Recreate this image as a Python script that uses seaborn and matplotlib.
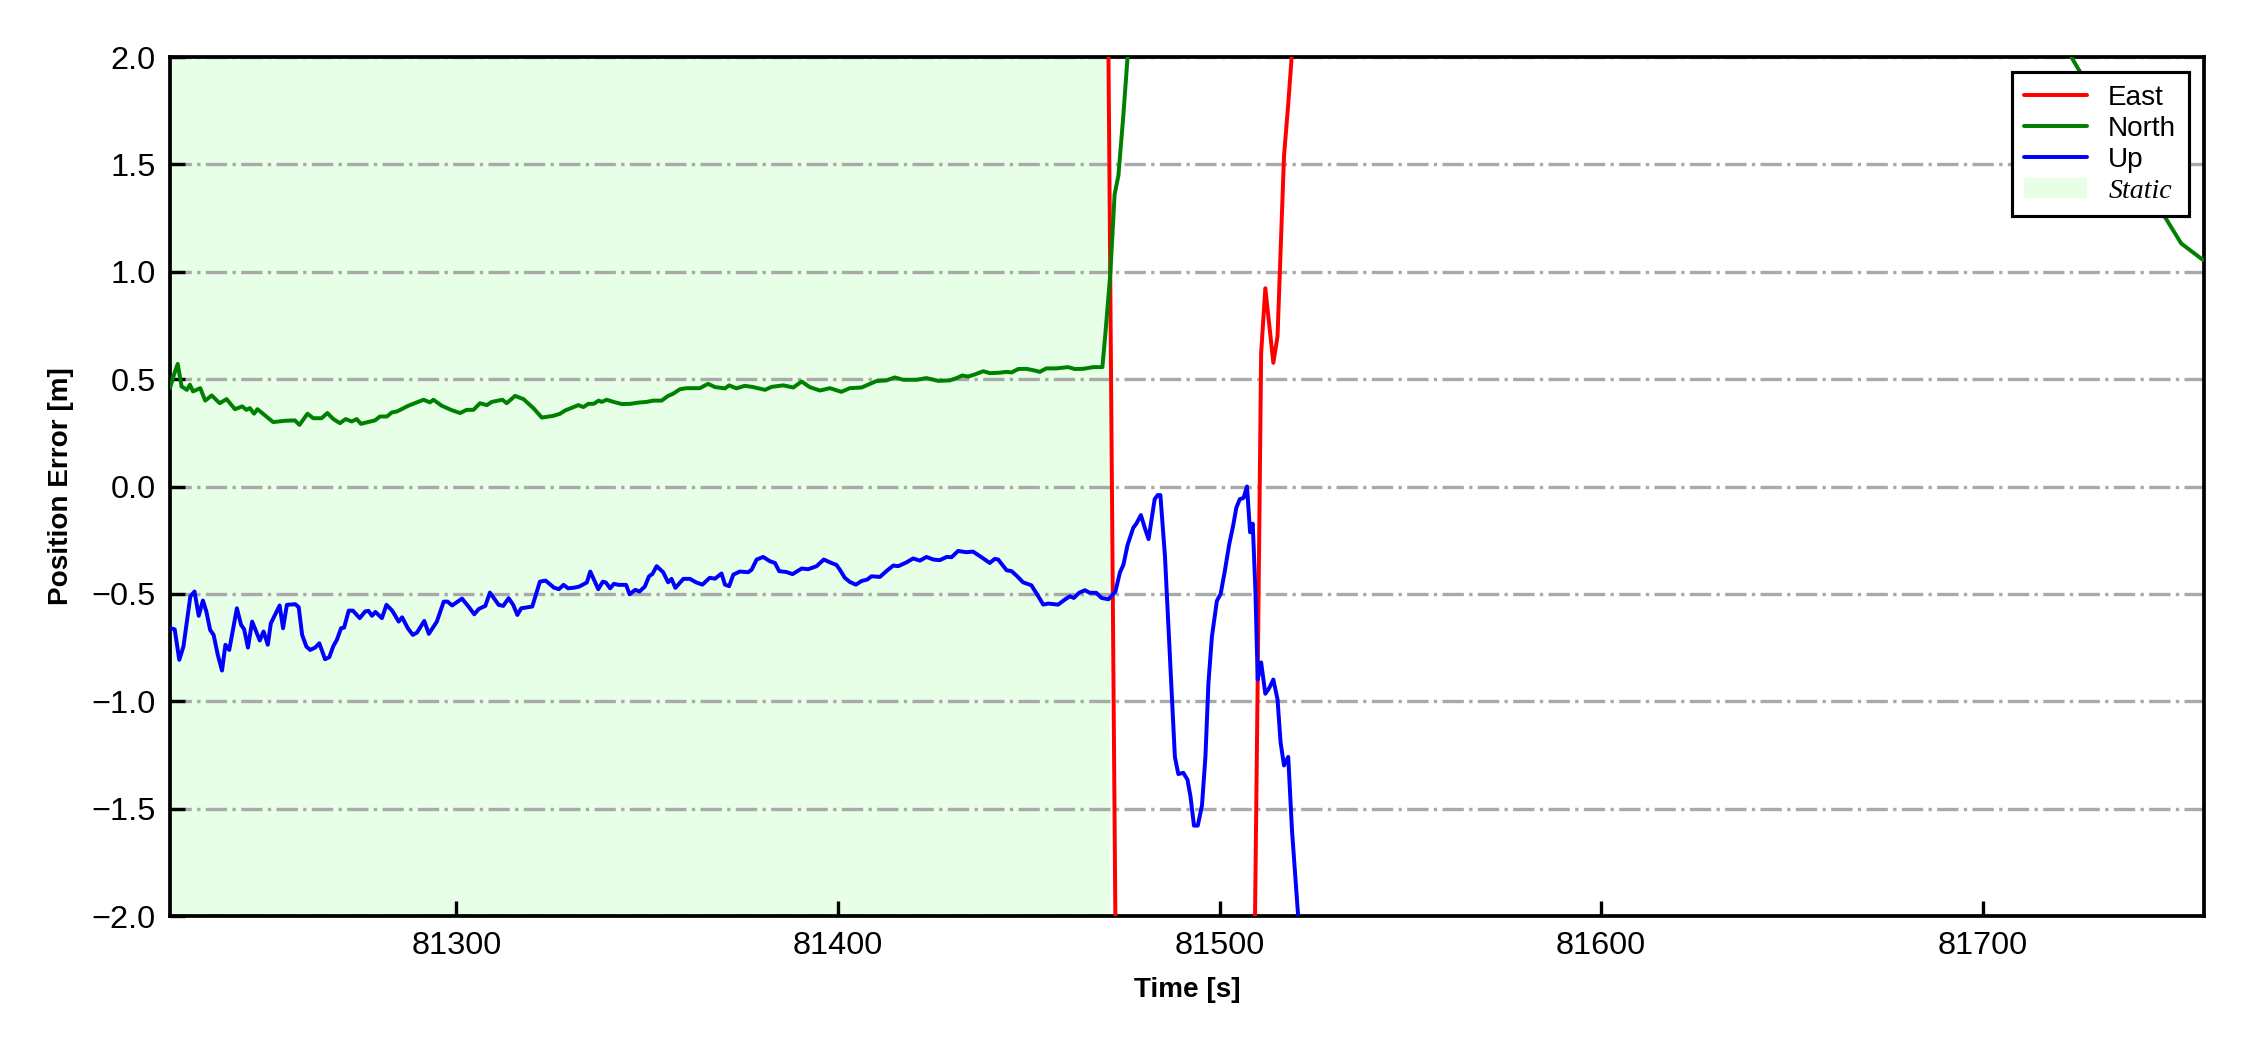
import numpy as np
import pandas as pd
import matplotlib
matplotlib.use("Agg")
import matplotlib.pyplot as plt
import seaborn as sns
from matplotlib.patches import Patch
from matplotlib.lines import Line2D

# ---------------- data ----------------
t_east = [81225.0, 81300.0, 81400.0, 81470.45, 81470.9, 81472.7, 81473.15, 81490.0,
          81508.7, 81509.3, 81510.0, 81510.9, 81512.0, 81514.1, 81515.2, 81516.9,
          81518.0, 81518.9, 81520.0, 81600.0, 81758.0]
v_east = [5.0, 5.4, 5.1, 3.0, 2.0, -2.0, -3.0, -5.5,
          -2.94, -2.0, -0.899, 0.621, 0.923, 0.576, 0.70, 1.541,
          1.78, 2.0, 2.3, 6.0, 7.0]

t_north = [81225.0, 81226.0, 81227.0, 81228.0, 81229.4, 81230.2, 81231.0, 81232.9, 81234.2, 81235.9,
           81238.0, 81239.8, 81242.0, 81243.9, 81245.0, 81245.9, 81247.0, 81247.9, 81252.0, 81255.0,
           81257.7, 81258.9, 81261.0, 81262.5, 81264.7, 81266.2, 81267.8, 81269.5, 81271.0, 81272.6,
           81273.9, 81275.0, 81278.7, 81280.0, 81281.8, 81283.1, 81284.4, 81287.4, 81291.4, 81293.1,
           81294.0, 81296.2, 81298.6, 81301.0, 81302.7, 81304.5, 81306.2, 81308.0, 81309.3, 81312.1,
           81313.2, 81315.4, 81317.6, 81320.2, 81322.4, 81325.4, 81327.2, 81328.5, 81330.7, 81332.0,
           81333.3, 81334.6, 81336.0, 81337.3, 81338.1, 81339.4, 81341.2, 81343.4, 81345.6, 81347.8,
           81349.9, 81351.6, 81353.8, 81355.5, 81356.8, 81358.6, 81360.3, 81363.8, 81366.0, 81367.8,
           81370.4, 81371.5, 81373.4, 81375.6, 81377.8, 81380.9, 81382.6, 81385.7, 81388.3, 81390.5,
           81392.6, 81395.3, 81397.9, 81400.9, 81403.1, 81406.2, 81410.1, 81412.7, 81414.9, 81417.1,
           81420.6, 81423.2, 81426.3, 81429.3, 81431.1, 81432.6, 81434.1, 81435.9, 81438.1, 81439.8,
           81442.4, 81444.2, 81445.5, 81447.2, 81449.4, 81451.6, 81452.9, 81454.6, 81457.3, 81460.3,
           81462.1, 81464.3, 81466.9, 81469.3, 81470.1, 81471.4, 81472.5, 81473.5, 81474.8, 81475.9,
           81477.2, 81500.0, 81600.0, 81690.0, 81715.0, 81723.2, 81747.7, 81752.0, 81757.7]
v_north = [0.46, 0.52, 0.571, 0.466, 0.45, 0.474, 0.443, 0.458, 0.40, 0.424,
           0.388, 0.407, 0.36, 0.373, 0.357, 0.365, 0.339, 0.36, 0.30, 0.306,
           0.308, 0.287, 0.339, 0.318, 0.318, 0.342, 0.314, 0.295, 0.314, 0.303,
           0.314, 0.292, 0.308, 0.326, 0.326, 0.345, 0.349, 0.376, 0.404, 0.392,
           0.404, 0.376, 0.357, 0.342, 0.357, 0.357, 0.388, 0.379, 0.394, 0.404,
           0.388, 0.422, 0.407, 0.365, 0.321, 0.329, 0.339, 0.354, 0.37, 0.379,
           0.37, 0.385, 0.385, 0.40, 0.394, 0.404, 0.394, 0.384, 0.385, 0.391,
           0.394, 0.40, 0.40, 0.422, 0.432, 0.453, 0.458, 0.458, 0.478, 0.463,
           0.457, 0.471, 0.457, 0.469, 0.463, 0.45, 0.464, 0.471, 0.461, 0.489,
           0.463, 0.447, 0.458, 0.441, 0.458, 0.461, 0.491, 0.494, 0.508, 0.497,
           0.497, 0.505, 0.492, 0.494, 0.505, 0.517, 0.512, 0.522, 0.537, 0.528,
           0.530, 0.534, 0.531, 0.547, 0.548, 0.540, 0.534, 0.550, 0.550, 0.556,
           0.547, 0.548, 0.556, 0.556, 0.715, 0.995, 1.36, 1.448, 1.73, 2.0,
           2.27, 4.1, 5.0, 3.4, 2.25, 2.0, 1.256, 1.132, 1.055]

t_up = [81225.0, 81226.2, 81227.4, 81228.5, 81230.3, 81231.4, 81232.5, 81233.6, 81234.5, 81235.5,
        81236.4, 81237.5, 81238.6, 81239.5, 81240.5, 81242.5, 81243.6, 81244.4, 81245.4, 81246.5,
        81248.5, 81249.5, 81250.6, 81251.4, 81253.7, 81254.6, 81255.6, 81257.8, 81258.7, 81259.6,
        81260.7, 81261.7, 81263.0, 81264.1, 81265.6, 81266.7, 81267.8, 81268.7, 81269.8, 81270.6,
        81271.8, 81272.9, 81274.7, 81276.1, 81277.0, 81277.9, 81278.8, 81280.5, 81281.7, 81283.2,
        81284.9, 81285.8, 81287.3, 81288.6, 81289.7, 81291.6, 81292.8, 81294.9, 81296.7, 81297.7,
        81298.9, 81301.5, 81303.2, 81304.7, 81305.9, 81307.6, 81308.8, 81311.1, 81312.3, 81313.7,
        81314.9, 81316.0, 81317.0, 81319.9, 81321.9, 81323.4, 81325.6, 81326.9, 81328.1, 81329.3,
        81330.9, 81332.2, 81334.2, 81335.1, 81336.1, 81337.2, 81338.4, 81339.2, 81340.3, 81341.3,
        81342.5, 81344.5, 81345.4, 81346.9, 81348.0, 81349.4, 81350.5, 81351.4, 81352.5, 81354.2,
        81355.5, 81356.4, 81357.4, 81359.5, 81361.2, 81362.8, 81364.5, 81366.4, 81367.8, 81369.5,
        81370.4, 81371.5, 81372.6, 81374.3, 81376.5, 81377.4, 81378.7, 81380.4, 81382.2, 81383.5,
        81384.6, 81386.5, 81388.1, 81390.5, 81392.2, 81394.4, 81396.3, 81397.9, 81399.6, 81400.5,
        81401.8, 81403.1, 81404.7, 81406.2, 81407.7, 81408.8, 81411.0, 81412.7, 81414.5, 81415.8,
        81418.0, 81419.7, 81421.5, 81423.2, 81425.0, 81426.7, 81428.5, 81429.8, 81431.5, 81433.7,
        81435.4, 81437.6, 81439.8, 81441.1, 81442.0, 81444.2, 81445.5, 81446.8, 81448.5, 81450.7,
        81452.5, 81453.8, 81455.1, 81457.7, 81459.5, 81460.8, 81461.8, 81463.2, 81464.7, 81466.0,
        81467.7, 81469.1, 81470.9, 81472.7, 81473.9, 81474.8, 81475.9, 81477.4, 81478.2, 81479.4,
        81480.4, 81481.4, 81483.0, 81483.8, 81484.5, 81485.7, 81486.8, 81487.7, 81488.3, 81489.2,
        81490.5, 81491.6, 81492.4, 81493.3, 81494.3, 81495.4, 81496.3, 81497.1, 81498.0, 81499.3,
        81500.3, 81501.4, 81502.5, 81503.6, 81504.4, 81505.3, 81506.3, 81507.2, 81508.0, 81508.7,
        81509.4, 81510.0, 81510.9, 81512.0, 81513.0, 81514.1, 81515.2, 81516.0, 81516.9, 81518.0,
        81519.0, 81520.6, 81521.5, 81560.0, 81650.0, 81758.0]
v_up = [-0.66, -0.665, -0.807, -0.745, -0.512, -0.489, -0.602, -0.531, -0.582, -0.668,
        -0.691, -0.784, -0.857, -0.737, -0.761, -0.567, -0.644, -0.665, -0.75, -0.629,
        -0.717, -0.675, -0.737, -0.637, -0.554, -0.66, -0.551, -0.548, -0.562, -0.691,
        -0.745, -0.761, -0.75, -0.73, -0.804, -0.795, -0.742, -0.714, -0.66, -0.657,
        -0.578, -0.578, -0.613, -0.582, -0.579, -0.602, -0.584, -0.613, -0.551, -0.578,
        -0.629, -0.609, -0.66, -0.691, -0.68, -0.626, -0.686, -0.629, -0.536, -0.536,
        -0.554, -0.522, -0.559, -0.595, -0.57, -0.556, -0.494, -0.551, -0.556, -0.52,
        -0.551, -0.598, -0.567, -0.559, -0.443, -0.438, -0.471, -0.478, -0.458, -0.474,
        -0.471, -0.466, -0.447, -0.396, -0.435, -0.478, -0.443, -0.447, -0.474, -0.453,
        -0.458, -0.458, -0.502, -0.481, -0.489, -0.466, -0.418, -0.407, -0.371, -0.399,
        -0.446, -0.43, -0.472, -0.43, -0.43, -0.446, -0.457, -0.425, -0.429, -0.405,
        -0.457, -0.464, -0.41, -0.396, -0.399, -0.387, -0.34, -0.328, -0.348, -0.356,
        -0.394, -0.398, -0.408, -0.382, -0.385, -0.371, -0.34, -0.353, -0.365, -0.387,
        -0.425, -0.444, -0.457, -0.44, -0.433, -0.418, -0.421, -0.394, -0.368, -0.371,
        -0.353, -0.335, -0.345, -0.328, -0.34, -0.343, -0.328, -0.329, -0.30, -0.306,
        -0.303, -0.329, -0.356, -0.337, -0.34, -0.39, -0.394, -0.415, -0.446, -0.46,
        -0.511, -0.55, -0.545, -0.55, -0.526, -0.511, -0.519, -0.495, -0.483, -0.495,
        -0.495, -0.519, -0.525, -0.49, -0.40, -0.365, -0.272, -0.192, -0.173, -0.133,
        -0.192, -0.245, -0.059, -0.04, -0.04, -0.325, -0.725, -1.045, -1.259, -1.339,
        -1.333, -1.365, -1.445, -1.579, -1.579, -1.485, -1.259, -0.912, -0.699, -0.533,
        -0.499, -0.392, -0.272, -0.179, -0.099, -0.059, -0.053, 0.0, -0.213, -0.173,
        -0.485, -0.899, -0.819, -0.965, -0.939, -0.899, -0.992, -1.192, -1.299, -1.259,
        -1.605, -2.0, -2.4, -4.0, -4.5, -5.0]

static_span = [81225.0, 81471.3]
x_limits = [81225.0, 81758.0]
y_limits = [-2.0, 2.0]
y_ticks = [-2.0, -1.5, -1.0, -0.5, 0.0, 0.5, 1.0, 1.5, 2.0]
x_ticks = [81300, 81400, 81500, 81600, 81700]
series_names = ["East", "North", "Up"]
series_colors = ["red", "green", "blue"]
static_label = "Static"
static_color = "#e6ffe6"

# ---------------- plot ----------------
sns.set_style("ticks")
plt.rcParams["font.family"] = ["Liberation Sans", "DejaVu Sans"]
plt.rcParams["axes.unicode_minus"] = True
plt.rcParams["text.color"] = "black"
plt.rcParams["axes.labelcolor"] = "black"
plt.rcParams["xtick.color"] = "black"
plt.rcParams["ytick.color"] = "black"

fig = plt.figure(figsize=(7.5, 3.5), dpi=300)
ax = fig.add_axes([0.0756, 0.1276, 0.904, 0.8181])

ax.axvspan(static_span[0], static_span[1], color=static_color, lw=0, zorder=0)

for t, v, name, col in zip([t_east, t_north, t_up], [v_east, v_north, v_up],
                           series_names, series_colors):
    df = pd.DataFrame({"t": t, "v": v})
    sns.lineplot(data=df, x="t", y="v", color=col, linewidth=0.95, ax=ax,
                 sort=False, estimator=None, zorder=3)

ax.set_xlim(*x_limits)
ax.set_ylim(*y_limits)
ax.set_yticks(y_ticks)
ax.set_xticks(x_ticks)
ax.yaxis.set_major_formatter(matplotlib.ticker.FuncFormatter(
    lambda v, p: f"{v:.1f}".replace("-", "\u2212")))
ax.xaxis.set_major_formatter(matplotlib.ticker.FuncFormatter(lambda v, p: f"{v:.0f}"))
ax.set_axisbelow(True)
ax.yaxis.grid(True, linestyle="-.", color="darkgray", linewidth=0.8)
ax.xaxis.grid(False)

for s in ax.spines.values():
    s.set_visible(True)
    s.set_linewidth(0.9)
    s.set_color("black")

ax.tick_params(direction="in", length=3.5, width=0.8, labelsize=7.8,
               top=False, right=False, colors="black")
ax.set_xlabel("Time [s]", fontsize=6.7, fontweight="bold", color="black")
ax.set_ylabel("Position Error [m]", fontsize=6.7, fontweight="bold", color="black")

handles = [Line2D([], [], color=c, lw=0.95) for c in series_colors]
handles.append(Patch(facecolor=static_color, edgecolor="none"))
labels = series_names + [static_label]
leg = ax.legend(handles, labels, loc="upper right", fontsize=6.7, frameon=True,
                fancybox=False, framealpha=1, edgecolor="black", borderpad=0.45,
                labelspacing=0.18, handlelength=2.25, handletextpad=0.75,
                borderaxespad=0.55, labelcolor="black")
leg.get_frame().set_linewidth(0.75)
st = leg.get_texts()[3]
st.set_fontfamily(["Liberation Serif", "DejaVu Serif"])
st.set_fontstyle("italic")

fig.savefig("out.png", dpi=300)
